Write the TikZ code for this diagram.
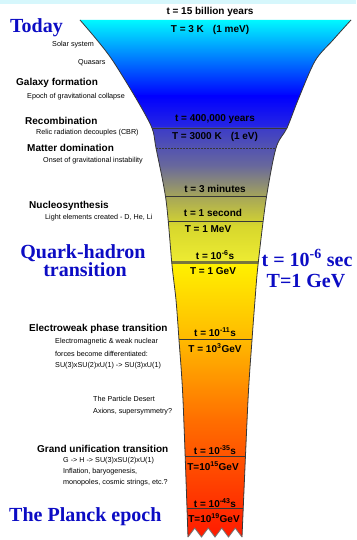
\documentclass[tikz,border=0pt]{standalone}
\usepackage{fontspec}
\setmainfont{Liberation Sans}
\newfontfamily\bigserif{Liberation Serif}
\definecolor{bigblue}{RGB}{12,12,196}
\definecolor{topbar}{RGB}{214,247,252}
\definecolor{edgegray}{RGB}{55,55,55}
\definecolor{thickline}{RGB}{120,118,60}
\definecolor{c0}{RGB}{0,255,255}
\definecolor{c1}{RGB}{0,0,255}
\definecolor{c2}{RGB}{40,40,225}
\definecolor{c3}{RGB}{60,60,200}
\definecolor{c4}{RGB}{105,105,155}
\definecolor{c5}{RGB}{165,165,90}
\definecolor{c6}{RGB}{215,215,45}
\definecolor{c7}{RGB}{238,236,50}
\definecolor{c8}{RGB}{255,242,0}
\definecolor{c9}{RGB}{255,185,0}
\definecolor{c10}{RGB}{255,110,0}
\definecolor{c11}{RGB}{255,20,0}
\begin{document}
\begin{tikzpicture}[x=1pt,y=-1pt,
  bigtext/.style={font=\bigserif\bfseries\fontsize{20}{22}\selectfont, text=bigblue, inner sep=0},
  head/.style={font=\bfseries\fontsize{10}{12}\selectfont, inner sep=0, anchor=west},
  small/.style={font=\fontsize{7.2}{8.6}\selectfont, inner sep=0, anchor=west},
  fun/.style={font=\bfseries\fontsize{10}{12}\selectfont, inner sep=0},
  hline/.style={draw=edgegray, line width=0.8pt},
  band/.style={shading=axis}
]
\useasboundingbox (0,0) rectangle (356,540);
\fill[white] (0,0) rectangle (356,540);
\fill[topbar] (0,0) rectangle (356,4);

% funnel outline
\path[save path=\funnel]
  plot[smooth] coordinates {(80,20) (97,40) (113,61) (137,100) (152,128) (156,148) (166,200) (172,265) (176,300) (179,340) (183,400) (188,537)}
  -- (194.75,528) -- (201.5,537) -- (208.25,528) -- (215,537) -- (221.75,528) -- (228.5,537) -- (235.25,528) -- (242,537)
  -- plot[smooth] coordinates {(242,537) (248,400) (252,340) (255,300) (258,265) (266,200) (276,148) (287,128) (298,100) (315,61) (333,40) (351,20)}
  -- cycle;

\begin{scope}
  \clip[use path=\funnel];
  \shade[top color=c0, bottom color=c1] (60,18) rectangle (360,96.5);
  \shade[top color=c1, bottom color=c2] (60,96) rectangle (360,128.5);
  \shade[top color=c3, bottom color=c4] (60,128) rectangle (360,166.5);
  \shade[top color=c4, bottom color=c5] (60,166) rectangle (360,196.5);
  \shade[top color=c5, bottom color=c6] (60,196) rectangle (360,226.5);
  \shade[top color=c6, bottom color=c7] (60,226) rectangle (360,262.5);
  \shade[top color=c8, bottom color=c9] (60,262) rectangle (360,340.5);
  \shade[top color=c9, bottom color=c10] (60,340) rectangle (360,420.5);
  \shade[top color=c10, bottom color=c11] (60,420) rectangle (360,545);
  % horizontal lines
  \draw[hline] (60,128) -- (360,128);
  \draw[hline, dashed, dash pattern=on 1.5pt off 1.5pt, line width=0.6pt] (60,148) -- (360,148);
  \draw[hline, line width=0.6pt] (60,196) -- (360,196);
  \draw[hline] (60,221) -- (360,221);
  \draw[draw=thickline, line width=3.5pt] (60,262.5) -- (360,262.5);
  \draw[hline] (60,339) -- (360,339);
  \draw[hline] (60,456) -- (360,456);
  \draw[hline] (60,508) -- (360,508);
\end{scope}

% side edges and zigzag
\draw[edgegray, line width=0.8pt]
  plot[smooth] coordinates {(80,20) (97,40) (113,61) (137,100) (152,128) (156,148) (166,200) (172,265) (176,300) (179,340) (183,400) (188,537)};
\draw[edgegray, line width=0.8pt]
  plot[smooth] coordinates {(242,537) (248,400) (252,340) (255,300) (258,265) (266,200) (276,148) (287,128) (298,100) (315,61) (333,40) (351,20)};
\draw[black!55, line width=0.8pt] (188,537) -- (194.75,528) -- (201.5,537) -- (208.25,528) -- (215,537) -- (221.75,528) -- (228.5,537) -- (235.25,528) -- (242,537);

% funnel texts
\node[fun] (t1) at (210,12) {t = 15 billion years};
\node[fun] (T1) at (210,30) {T = 3 K\hspace{9pt}(1 meV)};
\node[fun] (t2) at (215,119) {t = 400,000 years};
\node[fun] (T2) at (215,137) {T = 3000 K\hspace{9pt}(1 eV)};
\node[fun] (t3) at (215,189) {t = 3 minutes};
\node[fun] (t4) at (213,213) {t = 1 second};
\node[fun] (T4) at (208,229) {T = 1 MeV};
\node[fun] (t5) at (215,255) {t = 10\textsuperscript{-6}s};
\node[fun] (T5) at (213,271) {T = 1 GeV};
\node[fun] (t6) at (215,332) {t = 10\textsuperscript{-11}s};
\node[fun] (T6) at (215,348) {T = 10\textsuperscript{3}GeV};
\node[fun] (t7) at (215,450) {t = 10\textsuperscript{-35}s};
\node[fun] (T7) at (213,466) {T=10\textsuperscript{15}GeV};
\node[fun] (t8) at (215,503) {t = 10\textsuperscript{-43}s};
\node[fun] (T8) at (214,518) {T=10\textsuperscript{19}GeV};

% big blue labels
\node[bigtext, anchor=west] (today) at (10,28) {Today};
\node[bigtext] (qh1) at (83,253) {Quark-hadron};
\node[bigtext] (qh2) at (85,270) {transition};
\node[bigtext] (qt) at (307,258) {t = 10\textsuperscript{-6} sec};
\node[bigtext] (qT) at (306,281) {T=1 GeV};
\node[bigtext, anchor=west] (planck) at (9,517) {The Planck epoch};

% left labels
\node[small] (solar) at (52,45) {Solar system};
\node[small] (quasar) at (78,63) {Quasars};
\node[head] (galaxy) at (16,83) {Galaxy formation};
\node[small] (epoch) at (27,97) {Epoch of gravitational collapse};
\node[head] (recomb) at (25,121) {Recombination};
\node[small] (relic) at (36,133) {Relic radiation decouples (CBR)};
\node[head] (matter) at (27,148) {Matter domination};
\node[small] (onset) at (43,161) {Onset of gravitational instability};
\node[head] (nucleo) at (29,206) {Nucleosynthesis};
\node[small] (light) at (45,218) {Light elements created - D, He, Li};
\node[head] (ew) at (29,329) {Electroweak phase transition};
\node[small] (ew1) at (55,342) {Electromagnetic \& weak nuclear};
\node[small] (ew2) at (55,354) {forces become differentiated:};
\node[small] (ew3) at (55,366) {SU(3)xSU(2)xU(1) -> SU(3)xU(1)};
\node[small] (desert) at (93,399) {The Particle Desert};
\node[small] (axion) at (93,412) {Axions, supersymmetry?};
\node[head] (gut) at (37,449) {Grand unification transition};
\node[small] (gut1) at (63,461) {G -> H -> SU(3)xSU(2)xU(1)};
\node[small] (gut2) at (63,472) {Inflation, baryogenesis,};
\node[small] (gut3) at (63,483) {monopoles, cosmic strings, etc.?};
\end{tikzpicture}
\end{document}
